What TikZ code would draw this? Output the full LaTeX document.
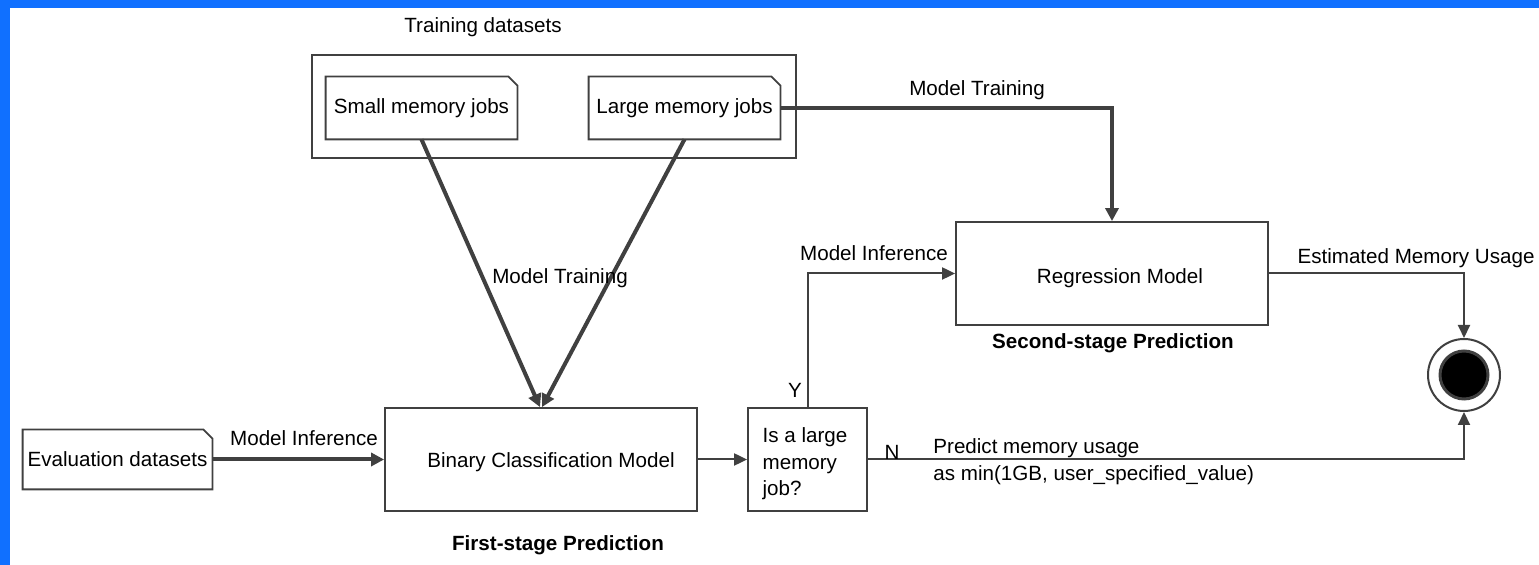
\documentclass[tikz,border=0pt]{standalone}
\usepackage{fontspec}
\setmainfont{Liberation Sans}
\usetikzlibrary{arrows.meta}
\definecolor{ln}{HTML}{404040}
\definecolor{bluebar}{HTML}{1070FF}
\newcommand\docoutline[1]{\draw[draw=ln,line width=0.9pt] (#1.north west) -- ([xshift=-4.5pt]#1.north east) -- ([yshift=-4.5pt]#1.north east) -- (#1.south east) -- (#1.south west) -- cycle;}
\begin{document}
\begin{tikzpicture}[x=0.5pt,y=-0.5pt,
  every node/.style={font=\fontsize{10.3}{12.4}\selectfont, text=black, inner sep=0pt},
  frame/.style={draw=ln, line width=0.9pt},
  conn/.style={draw=ln, line width=1pt, -{Triangle[length=6.5pt,width=6pt]}},
  heavy/.style={draw=ln, line width=2pt, -{Triangle[length=6.5pt,width=6.5pt]}},
  boldlbl/.style={font=\fontsize{10.3}{12.4}\selectfont\bfseries}]
\useasboundingbox (0,0) rectangle (1539,565);
\fill[bluebar] (0,0) rectangle (1539,8);
\fill[bluebar] (0,0) rectangle (10,565);

\node (trainlbl) at (483,27) {Training datasets};
\node[frame, minimum width=242pt, minimum height=51.5pt] (cont) at (554,106.5) {};
\node[minimum width=95.5pt, minimum height=31pt] (small) at (421.5,108) {Small memory jobs};
\node[minimum width=95.5pt, minimum height=31pt] (large) at (684.5,108) {Large memory jobs};
\docoutline{small}
\docoutline{large}
\node[minimum width=94.5pt, minimum height=29.5pt] (eval) at (117.5,459.5) {Evaluation datasets};
\docoutline{eval}

\node[frame, minimum width=156pt, minimum height=51.5pt] (bin) at (541,459.5) {};
\node (binT) at (551,462) {Binary Classification Model};
\node[frame, minimum width=59.5pt, minimum height=51.5pt] (dec) at (807.5,459.5) {};
\node[align=left, font=\fontsize{10.3}{13.3}\selectfont] (decT) at (805,464) {Is a large\\memory\\job?};
\node[frame, minimum width=156pt, minimum height=51.5pt] (reg) at (1112,273.5) {};
\node (regT) at (1120,278) {Regression Model};
\node[boldlbl] (first) at (558,545) {First-stage Prediction};
\node[boldlbl] (second) at (1113,343) {Second-stage Prediction};
\node[circle, draw=ln, line width=1pt, minimum size=36pt] (endO) at (1464,375) {};
\node[circle, fill=black, draw=ln, line width=1.5pt, minimum size=24pt] (endI) at (1464,375) {};

\draw[heavy] (large.east) -| (reg.north);
\node (mt1) at (977,90) {Model Training};
\draw[heavy] (small.south) -- ([xshift=-0.5pt]bin.north);
\draw[heavy] (large.south) -- ([xshift=0.5pt]bin.north);
\node (mt2) at (560,278) {Model Training};
\draw[heavy] (eval.east) -- (bin.west);
\node (mi1) at (304,438) {Model Inference};
\draw[conn] (bin.east) -- (dec.west);
\draw[conn] (dec.north) |- (reg.west);
\node (mi2) at (874,253) {Model Inference};
\node (ylbl) at (795,390) {Y};
\draw[conn] (reg.east) -| (endO.north);
\node (est) at (1416,258) {Estimated Memory Usage};
\draw[conn] (dec.east) -| (endO.south);
\node (nlbl) at (892,452) {N};
\node[anchor=west] (pred1) at (933,448) {Predict memory usage};
\node[anchor=west] (pred2) at (933,475) {as min(1GB, user\_specified\_value)};
\end{tikzpicture}
\end{document}
